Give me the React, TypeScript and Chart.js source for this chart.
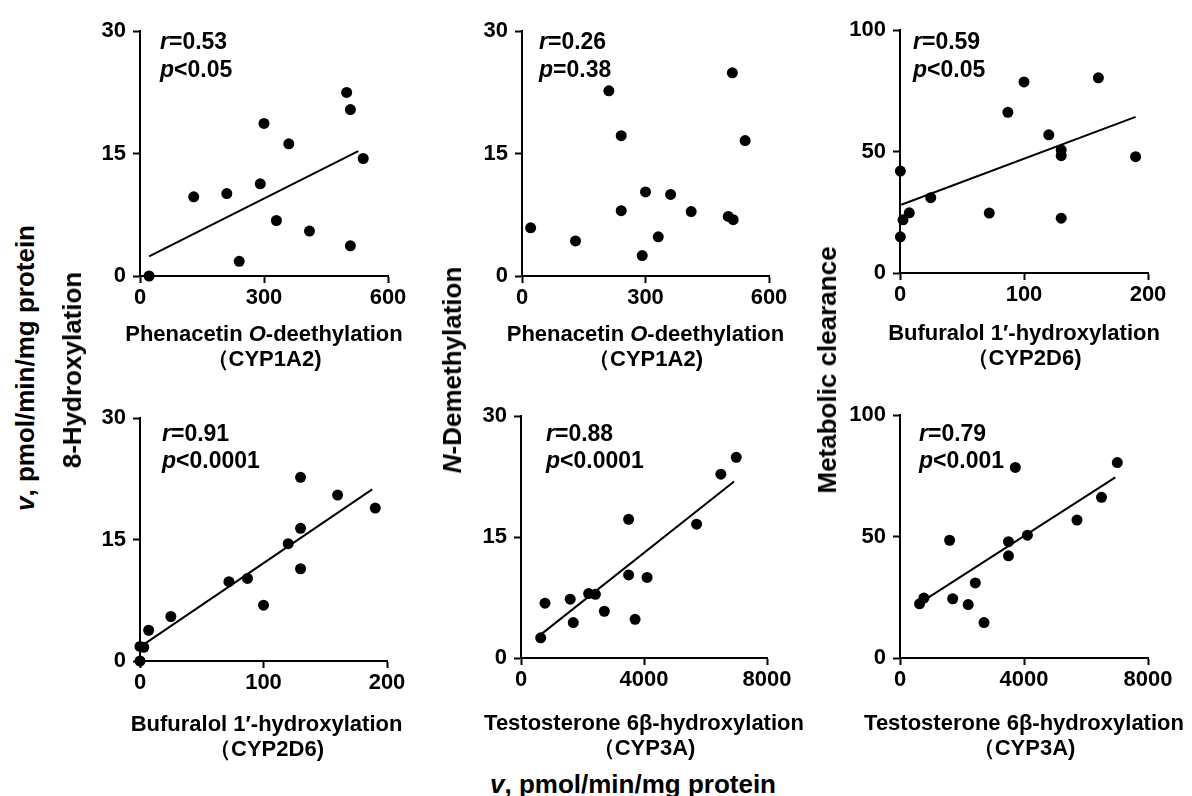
import React, { useEffect, useRef } from "react";
import { Chart, registerables } from "chart.js";

Chart.register(...registerables);

const FONT = '"Liberation Sans", Arial, Helvetica, sans-serif';

// ---------- data ----------
// Panel 1: Phenacetin O-deethylation vs 8-Hydroxylation
const phenacetinX1 = [22, 130, 210, 240, 291, 300, 330, 360, 410, 500, 509, 509, 540];
const hydroxylationY1 = [0, 9.7, 10.1, 1.8, 11.3, 18.7, 6.8, 16.2, 5.5, 22.5, 20.4, 3.7, 14.4];
const fitX1 = [22, 528];
const fitY1 = [2.4, 15.3];

// Panel 2: Phenacetin O-deethylation vs N-Demethylation
const phenacetinX2 = [21, 130, 211, 241, 241, 292, 300, 331, 361, 411, 501, 513, 511, 542];
const demethylationY2 = [5.9, 4.3, 22.7, 17.2, 8.0, 2.5, 10.3, 4.8, 10.0, 7.9, 7.3, 6.9, 24.9, 16.6];

// Panel 3: Bufuralol 1'-hydroxylation vs Metabolic clearance
const bufuralolX3 = [0.3, 0.3, 2.4, 7.5, 24.8, 72, 87, 100, 120, 130, 130, 130, 160, 190];
const clearanceY3 = [42.0, 14.9, 21.9, 24.8, 31.0, 24.7, 66.2, 78.7, 56.9, 50.7, 48.3, 22.6, 80.4, 47.9];
const fitX3 = [1, 190];
const fitY3 = [28.1, 64.3];

// Panel 4: Bufuralol 1'-hydroxylation vs 8-Hydroxylation
const bufuralolX4 = [0, 0, 3, 7, 25, 72, 87, 100, 120, 130, 130, 130, 160, 190.5];
const hydroxylationY4 = [0, 1.8, 1.7, 3.8, 5.5, 9.8, 10.2, 6.9, 14.5, 22.7, 16.4, 11.4, 20.5, 18.9];
const fitX4 = [4.6, 188];
const fitY4 = [2.2, 21.2];

// Panel 5: Testosterone 6β-hydroxylation vs N-Demethylation
const testosteroneX5 = [640, 780, 1600, 1700, 2200, 2420, 2710, 3500, 3500, 3710, 4100, 5710, 6500, 7000];
const demethylationY5 = [2.5, 6.8, 7.3, 4.4, 8.0, 7.9, 5.8, 17.2, 10.3, 4.8, 10.0, 16.6, 22.8, 24.9];
const fitX5 = [640, 6930];
const fitY5 = [2.9, 21.9];

// Panel 6: Testosterone 6β-hydroxylation vs Metabolic clearance
const testosteroneX6 = [630, 770, 1600, 1700, 2200, 2430, 2710, 3500, 3500, 3720, 4110, 5710, 6500, 7010];
const clearanceY6 = [22.3, 24.7, 48.5, 24.4, 22.0, 30.9, 14.6, 47.9, 42.1, 78.5, 50.6, 56.8, 66.2, 80.5];
const fitX6 = [634, 6946];
const fitY6 = [22.6, 74.4];

// tick labels
const phenacetinTicks = [0, 300, 600];
const bufuralolTicks = [0, 100, 200];
const testosteroneTicks = [0, 4000, 8000];
const rateTicks = [0, 15, 30];
const clearanceTicks = [0, 50, 100];

// statistics text
const rValues = ["0.53", "0.26", "0.59", "0.91", "0.88", "0.79"];
const pValues = ["<0.05", "=0.38", "<0.05", "<0.0001", "<0.0001", "<0.001"];

type Run = [string, boolean];

const phenTitle: Run[] = [["Phenacetin ", false], ["O", true], ["-deethylation", false]];
const bufTitle: Run[] = [["Bufuralol 1\u2032-hydroxylation", false]];
const tesTitle: Run[] = [["Testosterone 6\u03b2-hydroxylation", false]];

// ---------- layout ----------
const PAD_L = 70;
const PAD_T = 14;
const PAD_R = 60;
const X_AREA = 110;

interface PanelCfg {
  left: number;
  top: number;
  w: number;
  h: number;
  xs: number[];
  ys: number[];
  fx?: number[];
  fy?: number[];
  xMax: number;
  xTicks: number[];
  yMax: number;
  yTicks: number[];
  r: string;
  p: string;
  title: Run[];
  sub: string;
  annX: number;
  rY: number;
  pY: number;
  titleY: number;
  subY: number;
  titleDx: number;
}

const panels: PanelCfg[] = [
  { left: 140, top: 25, w: 248, h: 251, xs: phenacetinX1, ys: hydroxylationY1, fx: fitX1, fy: fitY1, xMax: 600, xTicks: phenacetinTicks, yMax: 30, yTicks: rateTicks, r: rValues[0], p: pValues[0], title: phenTitle, sub: "\uff08CYP1A2)", annX: 20, rY: 18, pY: 46, titleY: 65, subY: 90, titleDx: 0 },
  { left: 522, top: 25, w: 247, h: 251, xs: phenacetinX2, ys: demethylationY2, xMax: 600, xTicks: phenacetinTicks, yMax: 30, yTicks: rateTicks, r: rValues[1], p: pValues[1], title: phenTitle, sub: "\uff08CYP1A2)", annX: 17, rY: 18, pY: 46, titleY: 65, subY: 90, titleDx: 0 },
  { left: 900, top: 24, w: 248, h: 249, xs: bufuralolX3, ys: clearanceY3, fx: fitX3, fy: fitY3, xMax: 200, xTicks: bufuralolTicks, yMax: 100, yTicks: clearanceTicks, r: rValues[2], p: pValues[2], title: bufTitle, sub: "\uff08CYP2D6)", annX: 13, rY: 19, pY: 47, titleY: 67, subY: 92, titleDx: 0 },
  { left: 140, top: 412, w: 247, h: 249, xs: bufuralolX4, ys: hydroxylationY4, fx: fitX4, fy: fitY4, xMax: 200, xTicks: bufuralolTicks, yMax: 30, yTicks: rateTicks, r: rValues[3], p: pValues[3], title: bufTitle, sub: "\uff08CYP2D6)", annX: 22, rY: 23, pY: 50, titleY: 70, subY: 95, titleDx: 3 },
  { left: 521, top: 410, w: 246, h: 248, xs: testosteroneX5, ys: demethylationY5, fx: fitX5, fy: fitY5, xMax: 8000, xTicks: testosteroneTicks, yMax: 30, yTicks: rateTicks, r: rValues[4], p: pValues[4], title: tesTitle, sub: "\uff08CYP3A)", annX: 25, rY: 25, pY: 52, titleY: 72, subY: 97, titleDx: 0 },
  { left: 900, top: 409, w: 248, h: 249, xs: testosteroneX6, ys: clearanceY6, fx: fitX6, fy: fitY6, xMax: 8000, xTicks: testosteroneTicks, yMax: 100, yTicks: clearanceTicks, r: rValues[5], p: pValues[5], title: tesTitle, sub: "\uff08CYP3A)", annX: 19, rY: 26, pY: 53, titleY: 72, subY: 97, titleDx: 0 },
];

function font(size: number, italic: boolean) {
  return `${italic ? "italic " : ""}bold ${size}px ${FONT}`;
}

function drawRuns(ctx: CanvasRenderingContext2D, runs: Run[], x: number, y: number, align: "left" | "center", size: number) {
  let total = 0;
  const widths = runs.map(([t, it]) => {
    ctx.font = font(size, it);
    const w = ctx.measureText(t).width;
    total += w;
    return w;
  });
  let cx = align === "center" ? x - total / 2 : x;
  runs.forEach(([t, it], i) => {
    ctx.font = font(size, it);
    ctx.fillText(t, cx, y);
    cx += widths[i];
  });
}

const panelTextPlugin = {
  id: "panelText",
  afterDraw(chart: any, _args: any, opts: any) {
    const cfg: PanelCfg = opts.cfg;
    if (!cfg) return;
    const { ctx, chartArea } = chart;
    ctx.save();
    ctx.fillStyle = "#000";
    ctx.textBaseline = "alphabetic";
    ctx.textAlign = "left";
    const ax = chartArea.left + cfg.annX;
    drawRuns(ctx, [["r", true], ["=" + cfg.r, false]], ax, chartArea.top + cfg.rY, "left", 23);
    drawRuns(ctx, [["p", true], [cfg.p, false]], ax, chartArea.top + cfg.pY, "left", 23);
    const cx = (chartArea.left + chartArea.right) / 2 + cfg.titleDx;
    drawRuns(ctx, cfg.title, cx, chartArea.bottom + cfg.titleY, "center", 22);
    drawRuns(ctx, [[cfg.sub, false]], cx, chartArea.bottom + cfg.subY, "center", 22);
    ctx.restore();
  },
};

function Panel({ cfg }: { cfg: PanelCfg }) {
  const ref = useRef<HTMLCanvasElement>(null);
  const W = PAD_L + cfg.w + PAD_R;
  const H = PAD_T + cfg.h + X_AREA;

  useEffect(() => {
    if (!ref.current) return;
    const tickFont = { family: FONT, size: 22, weight: "bold" as const };
    const datasets: any[] = [
      {
        type: "scatter",
        data: cfg.xs.map((x, i) => ({ x, y: cfg.ys[i] })),
        pointRadius: 5.5,
        pointHoverRadius: 5.5,
        pointBackgroundColor: "#000",
        pointBorderColor: "#000",
        pointBorderWidth: 0,
        showLine: false,
        clip: false,
        order: 0,
      },
    ];
    if (cfg.fx && cfg.fy) {
      datasets.push({
        type: "line",
        data: cfg.fx.map((x, i) => ({ x, y: cfg.fy![i] })),
        borderColor: "#000",
        borderWidth: 2,
        pointRadius: 0,
        fill: false,
        showLine: true,
        clip: false,
        order: 1,
      });
    }
    const chart = new Chart(ref.current, {
      type: "scatter",
      data: { datasets },
      options: {
        animation: false,
        responsive: false,
        devicePixelRatio: 1,
        events: [],
        layout: { padding: { left: 0, top: PAD_T, right: PAD_R, bottom: 0 } },
        plugins: {
          legend: { display: false },
          tooltip: { enabled: false },
          panelText: { cfg },
        } as any,
        scales: {
          x: {
            type: "linear",
            min: 0,
            max: cfg.xMax,
            afterBuildTicks: (axis: any) => {
              axis.ticks = cfg.xTicks.map((v) => ({ value: v }));
            },
            afterFit: (axis: any) => {
              axis.height = X_AREA;
            },
            ticks: {
              callback: (v: any) => String(v),
              font: tickFont,
              color: "#000",
              padding: 2,
              maxRotation: 0,
              autoSkip: false,
            },
            grid: { drawOnChartArea: false, drawTicks: true, tickLength: 7, tickWidth: 2, tickColor: "#000" },
            border: { display: true, color: "#000", width: 2 },
          },
          y: {
            type: "linear",
            min: 0,
            max: cfg.yMax,
            afterBuildTicks: (axis: any) => {
              axis.ticks = cfg.yTicks.map((v) => ({ value: v }));
            },
            afterFit: (axis: any) => {
              axis.width = PAD_L;
            },
            ticks: {
              callback: (v: any) => String(v),
              font: tickFont,
              color: "#000",
              padding: 7,
              autoSkip: false,
            },
            grid: { drawOnChartArea: false, drawTicks: true, tickLength: 7, tickWidth: 2, tickColor: "#000" },
            border: { display: true, color: "#000", width: 2 },
          },
        },
      } as any,
      plugins: [panelTextPlugin],
    });
    return () => chart.destroy();
  }, [cfg]);

  return (
    <canvas
      ref={ref}
      width={W}
      height={H}
      style={{ position: "absolute", left: cfg.left - PAD_L, top: cfg.top - PAD_T, width: W, height: H }}
    />
  );
}

const labelBase: React.CSSProperties = {
  position: "absolute",
  fontFamily: FONT,
  fontWeight: "bold",
  fontSize: 26,
  lineHeight: "26px",
  whiteSpace: "nowrap",
  color: "#000",
};

function VLabel({ cx, cy, children }: { cx: number; cy: number; children: React.ReactNode }) {
  return (
    <div
      style={{
        ...labelBase,
        left: cx,
        top: cy,
        transform: "translate(-50%, -50%) rotate(-90deg)",
      }}
    >
      {children}
    </div>
  );
}

export default function App() {
  return (
    <div style={{ position: "fixed", left: 0, top: 0, width: 1192, height: 796, background: "#fff", overflow: "hidden" }}>
      {panels.map((cfg, i) => (
        <Panel key={i} cfg={cfg} />
      ))}
      <VLabel cx={25} cy={368}>
        <i>v</i>, pmol/min/mg protein
      </VLabel>
      <VLabel cx={72} cy={370}>8-Hydroxylation</VLabel>
      <VLabel cx={452} cy={370}>
        <i>N</i>-Demethylation
      </VLabel>
      <VLabel cx={827} cy={370}>Metabolic clearance</VLabel>
      <div
        style={{
          ...labelBase,
          left: 633,
          top: 771,
          transform: "translateX(-50%)",
        }}
      >
        <i>v</i>, pmol/min/mg protein
      </div>
    </div>
  );
}
